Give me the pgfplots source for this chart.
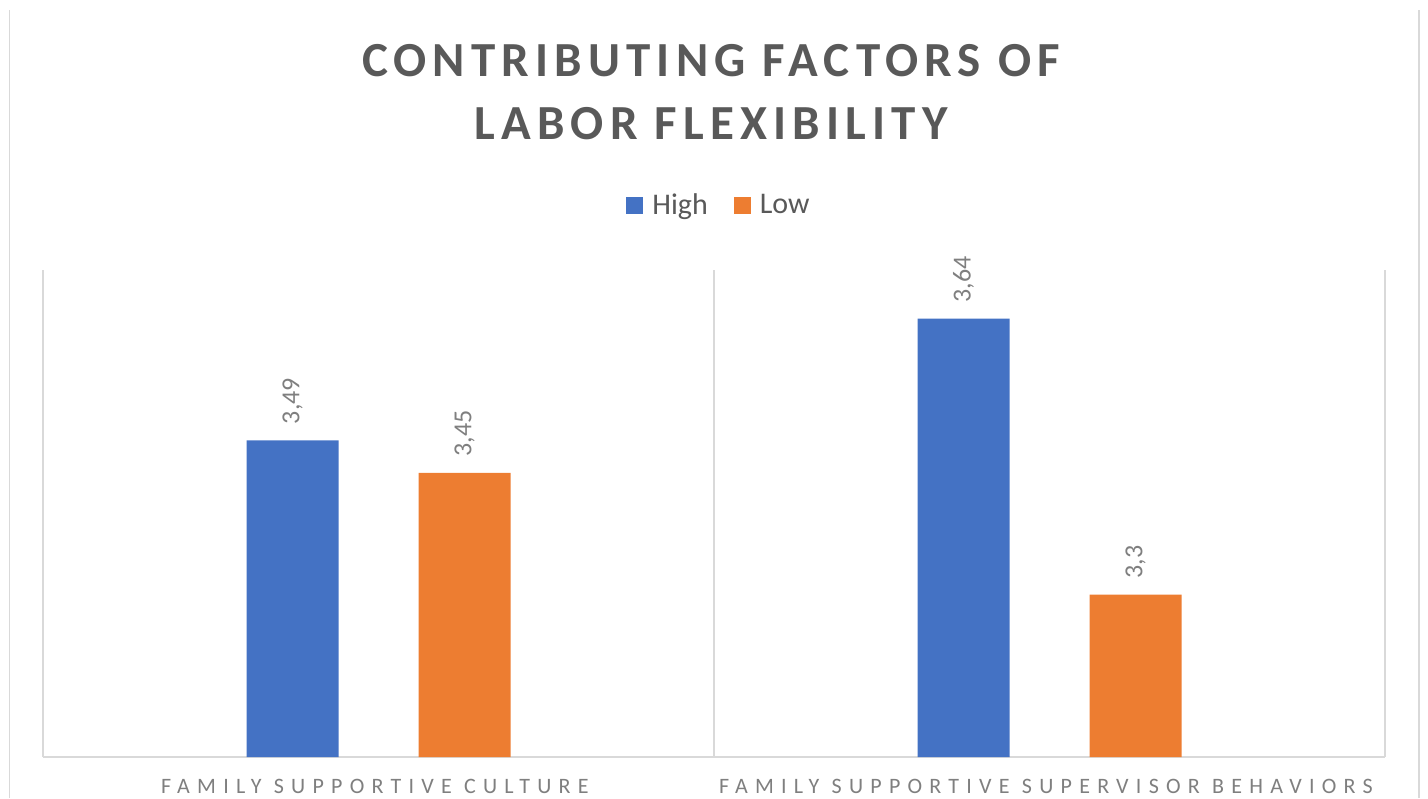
\documentclass[border=0pt]{standalone}
\usepackage{fontspec}
\setmainfont{Carlito}
\newfontfamily\titlefont[LetterSpace=12.5]{Carlito}
\newfontfamily\catfont[LetterSpace=33]{Carlito}
\usepackage{pgfplots}
\pgfplotsset{compat=1.18}
\definecolor{cblue}{HTML}{4472C4}
\definecolor{corange}{HTML}{ED7D31}
\definecolor{tgray}{HTML}{595959}
\definecolor{lgray}{HTML}{7F7F7F}
\definecolor{gridc}{HTML}{D9D9D9}
\begin{document}
\begin{tikzpicture}
\path[use as bounding box] (-21.5pt,-20.5pt) rectangle (692.5pt,378.5pt);
\draw[gridc, line width=0.9pt] (-16.75pt,-20.5pt) -- (-16.75pt,373.5pt);
\draw[gridc, line width=0.9pt] (688pt,-20.5pt) -- (688pt,373.5pt);
\begin{axis}[
  at={(0pt,0pt)}, anchor=south west,
  scale only axis, width=671pt, height=243.5pt,
  xmin=-0.5, xmax=1.5, ymin=3.1, ymax=3.7,
  axis y line=none,
  axis x line*=bottom,
  x axis line style={draw=gridc, line width=0.9pt, -},
  xtick={0,1},
  xticklabels={FAMILY SUPPORTIVE CULTURE, FAMILY SUPPORTIVE SUPERVISOR BEHAVIORS},
  major tick length=0pt,
  xticklabel style={font=\catfont\fontsize{11}{13}\selectfont, text=lgray, anchor=base, yshift=-18.15pt, xshift=-1.8pt},
  extra x ticks={-0.5,0.5,1.5}, extra x tick labels={},
  extra x tick style={grid=major, major grid style={draw=gridc, line width=0.9pt}},
  ybar, bar width=46pt,
  nodes near coords,
  nodes near coords style={rotate=90, anchor=west, inner xsep=8pt, inner ysep=0pt, font=\fontsize{13}{15}\selectfont, text=lgray},
  /pgf/number format/use comma,
  /pgf/number format/precision=2,
  /pgf/number format/assume math mode=true,
  legend style={at={(0.5045,1.133)}, anchor=center, draw=none, legend columns=2,
    font=\fontsize{15}{18}\selectfont, text=tgray,
    /tikz/every odd column/.append style={column sep=2.5pt},
    /tikz/every even column/.append style={column sep=11pt}},
  legend image code/.code={\fill[#1] (0pt,-4.25pt) rectangle (8.5pt,4.25pt);},
]
\addplot[fill=cblue, draw=none, bar shift=-43pt] coordinates {(0,3.49) (1,3.64)};
\addplot[fill=corange, draw=none, bar shift=43pt] coordinates {(0,3.45) (1,3.3)};
\legend{High, Low}
\end{axis}
\node[font=\titlefont\bfseries\fontsize{24.5}{29}\selectfont, text=tgray, anchor=base] at (334pt,340.2pt) {CONTRIBUTING FACTORS OF};
\node[font=\titlefont\bfseries\fontsize{24.5}{29}\selectfont, text=tgray, anchor=base] at (334pt,308.5pt) {LABOR FLEXIBILITY};
\end{tikzpicture}
\end{document}
